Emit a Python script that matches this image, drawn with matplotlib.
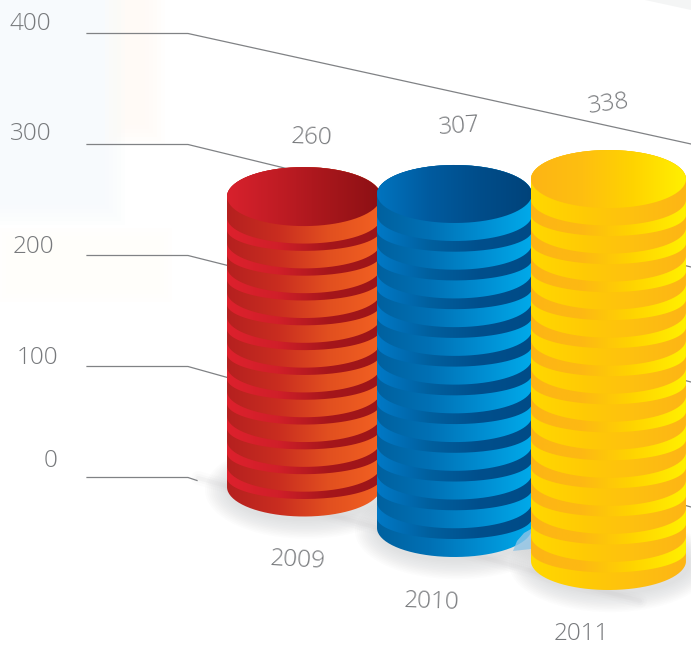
import numpy as np
import matplotlib
matplotlib.use("Agg")
import matplotlib.pyplot as plt
from matplotlib.colors import LinearSegmentedColormap
from matplotlib.path import Path
from matplotlib.patches import PathPatch, Ellipse, Polygon, Rectangle

years = ["2009", "2010", "2011"]
values = [260, 307, 338]
discs = [12, 12, 14]
ticks = [0, 100, 200, 300, 400]

# column geometry in figure pixels
centers = [304, 454.5, 608.5]
radius_x = [77, 77.5, 77.5]
radius_y = [29.5, 29, 29]
bases = [487, 528, 561]
px_per_unit = [1.117, 1.088, 1.13]
body_px = [17.5, 18, 17.5]
# the ring edges are flatter than the cap
body_drop = 26
groove_drop = 21

body_cols = [["#b5201f", "#c92d20", "#e2501f", "#f26122"],
             ["#00619f", "#0070b4", "#008cd0", "#00aaea"],
             ["#ffd800", "#ffcb05", "#fec010", "#fdb515"]]
groove_cols = [["#dd212d", "#d01f29", "#a5161b", "#9c1519"],
               ["#0079c6", "#00609f", "#004f8c", "#004b87"],
               ["#fdb515", "#fdb913", "#ffd500", "#fff000"]]
top_cols = [["#d8212d", "#c01c24", "#a5161b", "#8c1014"],
            ["#0074bf", "#005b9f", "#004d8a", "#00437a"],
            ["#fdb515", "#febf10", "#ffd400", "#fff000"]]

text_col = "#77797c"
line_col = "#808285"
font = dict(family="Open Sans", weight=300, fontsize=17.5, color=text_col, zorder=6)

fig = plt.figure(figsize=(6.91, 6.47), dpi=100)
ax = fig.add_axes([0, 0, 1, 1])
ax.axis("off")


def y_of(v):
    return 477.5 - v * 1.11


def section_path(cx, rx, ry, y0, bottom, drop):
    # upper arc around y0, lower arc reaching "bottom" at the middle
    t = np.linspace(np.pi, 0, 80)
    edge = bottom - drop
    xs = np.concatenate([cx + rx * np.cos(t), cx + rx * np.cos(t[::-1])])
    ys = np.concatenate([y0 - ry * np.sin(t), edge + drop * np.sin(t[::-1])])
    return Path(np.column_stack([xs, ys]), closed=False)


def paint(path, cx, rx, ymin, ymax, colors, z):
    cmap = LinearSegmentedColormap.from_list("c", colors)
    grad = np.linspace(0, 1, 256).reshape(1, -1)
    im = ax.imshow(grad, cmap=cmap, extent=(cx - rx, cx + rx, ymax, ymin),
                   aspect="auto", zorder=z, interpolation="bilinear")
    clip = PathPatch(path, transform=ax.transData, fc="none", ec="none")
    im.set_clip_path(clip)


def soft_rect(x, y, w, h, color, steps=6, inset=4):
    # stacked translucent rects give a feathered edge
    for k in range(steps):
        d = k * inset
        ax.add_patch(Rectangle((x - d if x > 0 else 0, y - d if y > 0 else 0),
                               w + (2 * d if x > 0 else d), h + (2 * d if y > 0 else d),
                               fc=color, ec="none", alpha=0.2, zorder=0))


# pale panels behind the chart
soft_rect(0, 0, 105, 205, "#f6fafd")
soft_rect(125, 0, 20, 125, "#fffaf5")
soft_rect(10, 240, 150, 50, "#fffef8", steps=4)
ax.add_patch(Polygon([(645, 0), (691, 0), (691, 10)], fc="#f4f5f5", ec="none", zorder=0))

# axis lines: flat stub, then running off along the wall
right_ends = [None, 507, 382, 267, 144]
tick_pos = [(51, 461), (38, 358), (33, 247), (31, 134), (30, 24)]
for v, re, (tx, ty) in zip(ticks, right_ends, tick_pos):
    y = y_of(v)
    if re is None:
        ax.plot([87, 188, 197], [y, y, y + 3], color=line_col, lw=0.9, zorder=1)
    else:
        ax.plot([87, 188, 691], [y, y, re], color=line_col, lw=0.9, zorder=1)
    ax.text(tx, ty, str(v), ha="center", va="center", **font)

# floor edge highlight
for w, a in zip([10, 6, 3], [0.02, 0.03, 0.05]):
    ax.plot([198, 640], [478, 601], color="#8a8c8e", lw=w, alpha=a, zorder=1,
            solid_capstyle="round")

# soft shadows under the columns
for cx, rx, ry, b in zip(centers, radius_x, radius_y, bases):
    for k in range(12):
        grow = 24 - k * 2
        ax.add_patch(Ellipse((cx + 2, b + 3), 2 * (rx + grow), 2 * (ry + grow * 0.8),
                             fc="#6d6e71", ec="none", alpha=0.014, zorder=1.5))

# the columns themselves, left to right so each overlaps the previous one
for i in range(3):
    cx, rx, ry, base = centers[i], radius_x[i], radius_y[i], bases[i]
    height = values[i] * px_per_unit[i]
    top = base - height
    period = (height - body_px[i]) / (discs[i] - 1)
    z = 2 + i
    ymin, ymax = top - ry - 1, base + ry + 1
    for k in range(discs[i] - 1, -1, -1):
        y0 = top + k * period
        y1 = y0 + body_px[i]
        if k == discs[i] - 1:
            paint(section_path(cx, rx, ry, y0, base + ry, ry), cx, rx, ymin, ymax,
                  body_cols[i], z)
            continue
        paint(section_path(cx, rx, ry, y0, y0 + period + ry, groove_drop), cx, rx, ymin, ymax,
              groove_cols[i], z)
        paint(section_path(cx, rx, ry, y0, y1 + ry, body_drop), cx, rx, ymin, ymax,
              body_cols[i], z)
    paint(section_path(cx, rx, ry, top, top + ry, ry), cx, rx, ymin, ymax, top_cols[i], z)

# glow the yellow column casts on the blue one
ax.add_patch(Polygon([(531, 529), (524, 533), (517, 541), (513, 551), (531, 549)],
                     fc="#8fc4e6", ec="none", alpha=0.8, zorder=3.5))

# value and year labels
val_pos = [(312, 138, -2), (459, 127, 4), (609, 104, 8)]
year_pos = [(298, 560, -3), (432, 602, -2), (581, 634, 0)]
for v, (x, y, r) in zip(values, val_pos):
    ax.text(x, y, str(v), ha="center", va="center", rotation=r, **font)
for s, (x, y, r) in zip(years, year_pos):
    ax.text(x, y, s, ha="center", va="center", rotation=r, **font)

ax.set_xlim(0, 691)
ax.set_ylim(647, 0)
fig.savefig("out.png", dpi=100)
